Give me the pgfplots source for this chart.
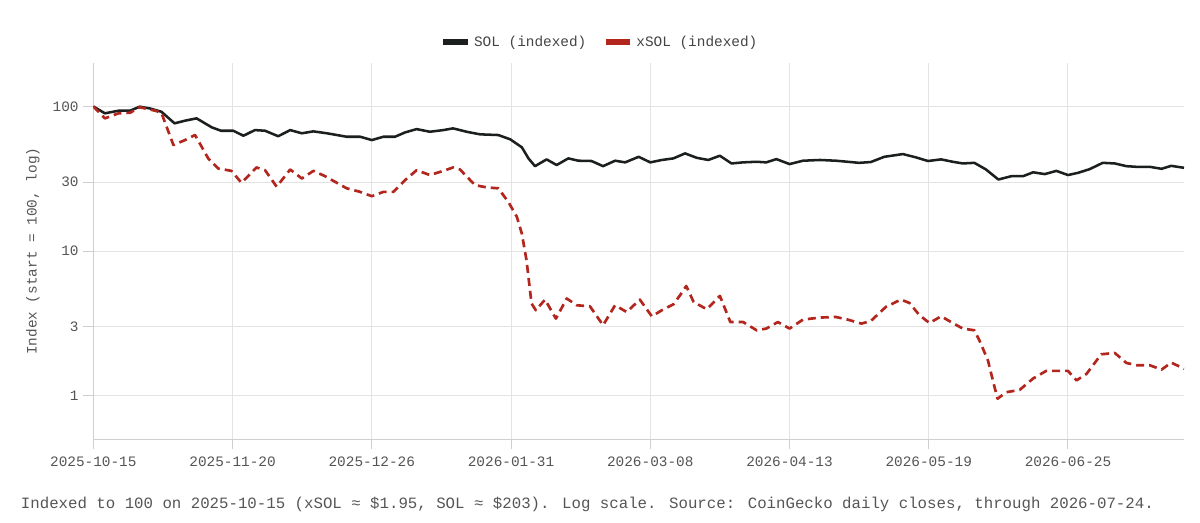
\documentclass[border=0pt]{standalone}
\usepackage{fontspec}
\setmainfont{Liberation Mono}
\usepackage{pgfplots}
\pgfplotsset{compat=1.18}
\definecolor{solc}{HTML}{1B1F1E}
\definecolor{xsolc}{HTML}{B3261E}
\definecolor{txt}{HTML}{555555}
\definecolor{gridc}{HTML}{E3E3E3}
\definecolor{axc}{HTML}{CFCFCF}
\begin{document}
\begin{tikzpicture}
\useasboundingbox (0,0) rectangle (900pt,391.5pt);
\begin{axis}[
  at={(70pt,61.9pt)}, anchor=south west,
  scale only axis, width=818pt, height=282.4pt,
  ymode=log, ymin=0.5, ymax=200,
  xmin=0, xmax=282,
  xtick={0,36,72,108,144,180,216,252},
  xticklabels={2025-10-15,2025-11-20,2025-12-26,2026-01-31,2026-03-08,2026-04-13,2026-05-19,2026-06-25},
  ytick={1,3,10,30,100},
  yticklabels={1,3,10,30,100},
  minor ytick={},
  /pgf/number format/assume math mode=true,
  axis lines*=left,
  axis line style={draw=axc, line width=0.75pt},
  grid=major,
  major grid style={draw=gridc, line width=0.75pt},
  tick align=outside,
  major tick length=7.5pt,
  tick style={draw=axc, line width=0.75pt},
  ticklabel style={font=\fontsize{10.8pt}{13pt}\selectfont, text=txt},
  xticklabel style={yshift=-2pt},
  ylabel={Index (start = 100, log)},
  ylabel style={at={(axis description cs:-0.0553,0.5)}, anchor=center, font=\fontsize{10.8pt}{13pt}\selectfont, text=txt},
  legend style={at={(axis description cs:0.4646,1.0558)}, anchor=center, draw=none, fill=none,
    font=\fontsize{10.8pt}{13pt}\selectfont, text=txt!80!black, inner sep=0pt},
  legend columns=2,
  /tikz/every even column/.append style={column sep=10pt},
  legend image code/.code={\draw[#1, solid, line width=5pt, line cap=butt] (0pt,0pt) -- (18.5pt,0pt);},
]
\addplot[solc, line width=1.9pt, line join=round] coordinates {
(0,100) (3,89.7) (6.5,93.5) (9.5,93.5) (12,99.7) (14.6,97) (17.6,92) (21,76.5) (23.7,79.8) (26.7,82.8)
(30.6,71.8) (33,68) (36.2,68) (38.8,62.8) (41.8,68.7) (44.4,68) (47.8,62.3) (50.9,68.7) (53.9,65.3) (56.9,67.3)
(60.4,65.3) (65.5,61.8) (69,61.8) (72,58.6) (75,61.8) (78,61.8) (80.6,66.2) (83.6,69.8) (87,66.9) (90.5,68.7)
(93,70.6) (96.5,66.9) (100,64.2) (104.7,63.5) (107.8,59.3) (110.8,52.2) (112.5,43.8) (114.2,38.7) (117.2,43.1) (119.8,39.4)
(122.8,43.8) (125.4,42.2) (128.8,42) (131.8,38.7) (134.9,42.2) (137.5,41.1) (141,44.9) (144,41.1) (147,42.7) (150,43.8)
(153,47.4) (156,44.2) (159,42.7) (162,45.7) (165,40.4) (168,41.1) (171.5,41.5) (174,41.1) (176.6,43.3) (180,40)
(183.5,42.2) (187.9,42.7) (192,42.2) (198,40.8) (201,41.3) (204.5,44.9) (209.3,46.9) (212.7,44.5) (215.8,42) (219.2,43.1)
(222.2,41.5) (224.8,40.4) (227.8,40.8) (230.8,36.7) (234,31.3) (237.4,33) (240.4,33) (243,35.1) (246,34.1) (249,35.9)
(252,33.6) (254.6,34.8) (257.6,36.9) (261,40.8) (264.1,40.4) (267.1,38.7) (269.7,38.3) (273.1,38.3) (276.2,37.1) (278.7,38.9)
(282,37.7)
};
\addlegendentry{SOL (indexed)}
\addplot[xsolc, line width=2pt, dash pattern=on 6pt off 3.75pt, line join=round] coordinates {
(0,100) (3,82.8) (6.5,89.7) (9.5,90.5) (12,98.8) (16,93.5) (17.6,90.5) (20.7,54.2) (23.7,58.6) (26.3,63.5)
(29.7,43.8) (32.3,37.3) (35.7,35.9) (38.3,29.7) (42.2,37.9) (44.4,36.3) (47.4,27.9) (50.9,36.7) (53.9,31.8) (56.9,35.9)
(59.9,33) (65.5,27.2) (69,25.7) (72,24) (75,25.7) (77.6,25.7) (80.6,31) (83.6,36.3) (87,33.6) (90.5,35.9)
(93,37.9) (94.8,36.7) (98.7,28.6) (101.7,27.6) (104.7,27.2) (107.3,21.9) (109.5,17.3) (110.8,13.2) (112,8.66) (113.3,4.35)
(114.4,3.91) (116.8,4.63) (119.6,3.42) (122.4,4.71) (125,4.23) (128.4,4.16) (131.8,3.08) (134.9,4.23) (137.9,3.80) (141.3,4.63)
(144.4,3.55) (147,3.91) (150,4.30) (151.7,4.96) (153.3,5.75) (155.2,4.46) (158.6,3.97) (162,4.91) (164.7,3.24) (168,3.24)
(171.5,2.84) (174,2.92) (177,3.24) (180,2.92) (183.5,3.37) (187.9,3.48) (192,3.51) (195,3.37) (198.6,3.16) (201,3.29)
(204.9,4.12) (208.8,4.63) (211,4.39) (213.6,3.61) (216.2,3.19) (219.2,3.55) (222.2,3.19) (224.8,2.92) (227.8,2.84) (229.1,2.42)
(231.3,1.76) (232.8,1.21) (233.8,0.957) (236,1.06) (239.5,1.10) (243,1.32) (246.4,1.49) (252,1.49) (254.2,1.28) (256.8,1.42)
(260.6,1.94) (264.1,1.98) (267.1,1.69) (269.7,1.63) (273.1,1.63) (276.2,1.52) (278.7,1.70) (282,1.54)
};
\addlegendentry{xSOL (indexed)}
\end{axis}
\node[anchor=west, inner sep=0pt, text=txt, font=\fontsize{11.8pt}{14pt}\selectfont] at (15.5pt,13.5pt)
  {Indexed to 100 on 2025-10-15 (xSOL ≈ \$1.95, SOL ≈ \$203). Log scale. Source: CoinGecko daily closes, through 2026-07-24.};
\end{tikzpicture}
\end{document}
